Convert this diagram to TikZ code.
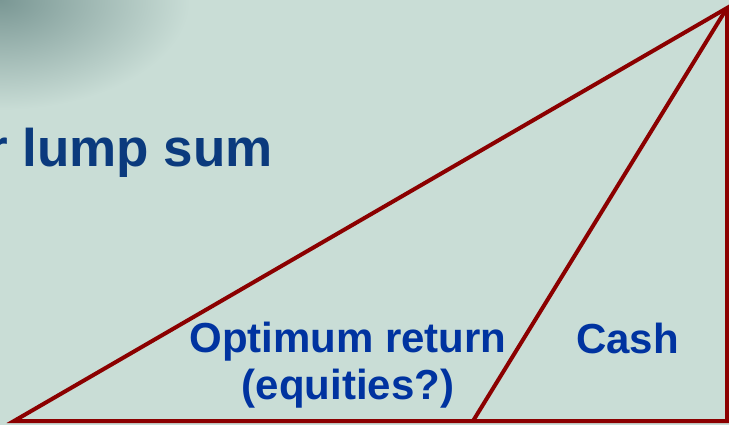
\documentclass[tikz,border=0pt]{standalone}
\usepackage{fontspec}
\setmainfont{Liberation Sans}
\usepackage{xcolor}
\usetikzlibrary{positioning}
\definecolor{slidebg}{HTML}{C9DDD6}
\definecolor{slideshade}{HTML}{7A9794}
\definecolor{edgered}{HTML}{8B0000}
\definecolor{titleblue}{HTML}{0B3A7D}
\definecolor{labelblue}{HTML}{0033A0}

\begin{document}
\begin{tikzpicture}[
    x=1pt, y=-1pt,
    edge/.style={draw=edgered, line width=4pt, line join=miter},
    title/.style={inner sep=0pt, text=titleblue, font=\fontsize{53}{60}\selectfont\bfseries},
    label/.style={inner sep=0pt, text=labelblue, align=center, font=\fontsize{42}{47}\selectfont\bfseries}
]
% Background
\fill[slidebg] (0,0) rectangle (729,425);
\begin{scope}
  \clip (0,0) rectangle (729,425);
  \shade[inner color=slideshade, outer color=slidebg] (0,0) ellipse [x radius=190pt, y radius=110pt];
\end{scope}
\useasboundingbox (0,0) rectangle (729,425);

% Corners of the triangle
\coordinate (left) at (14,421);
\coordinate (apex) at (727,8);
\coordinate (corner) at (727,421);
\coordinate (split) at (473,421);

% Triangle
\draw[edge] (left) -- (apex) -- (corner) -- cycle;
\draw[edge] (split) -- (apex);

% Texts
\node[title, anchor=base east] (lump) at (273,167) {r lump sum};
\node[label, anchor=north] (optimum) at (348,322) {Optimum return\\(equities?)};
\node[label, anchor=base] (cash) at (627.5,353) {Cash};
\end{tikzpicture}
\end{document}
